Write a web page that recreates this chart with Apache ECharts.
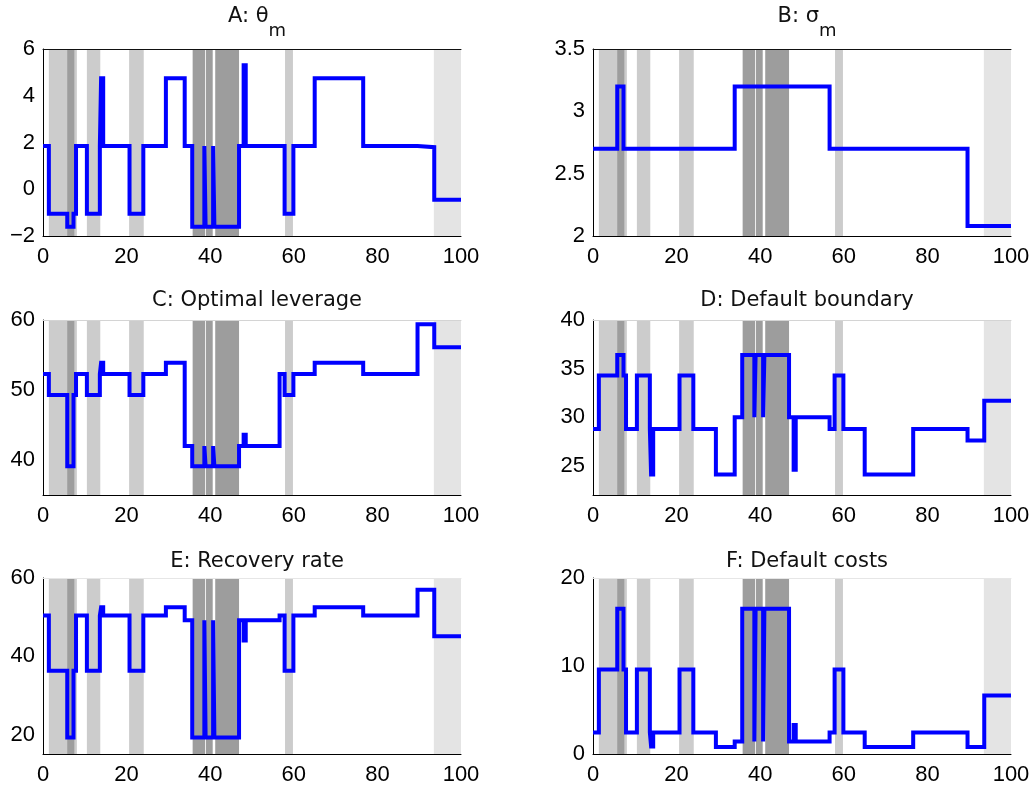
<!DOCTYPE html>
<html>
<head>
<meta charset="utf-8">
<script src="https://cdn.jsdelivr.net/npm/echarts@6/dist/echarts.min.js"></script>
<style>
html,body{margin:0;padding:0;background:#fff;}
#chart{width:1035px;height:788px;}
</style>
</head>
<body>
<div id="chart"></div>
<script>
// regime break points (start of each constant segment), last segment ends at xEnd
const breaks = [0, 1.4, 5.8, 7.3, 7.9, 10.5, 13.6, 13.9, 14.4, 20.7, 24.0, 29.4, 33.9, 35.7, 38.6, 38.9, 40.7, 41.0, 46.9, 48.0, 48.5, 56.6, 57.8, 59.9, 65.0, 76.6, 89.6, 93.6];
const xEnd = 100;

const thetaM   = [1.85,-1.05,-1.6,-1.05,1.85,-1.05,1.85,4.75,1.85,-1.05,1.85,4.75,1.85,-1.6,1.85,-1.6,1.85,-1.6,1.85,5.3,1.85,1.85,-1.05,1.85,4.75,1.85,1.8,-0.45];
const sigmaM   = [2.7,2.7,3.2,2.7,2.7,2.7,2.7,2.7,2.7,2.7,2.7,2.7,3.2,3.2,3.2,3.2,3.2,3.2,3.2,3.2,3.2,2.7,2.7,2.7,2.7,2.7,2.08,2.08];
const leverage = [52.3,49.3,39.1,49.3,52.3,49.3,52.3,53.9,52.3,49.3,52.3,53.9,42,39.1,42,39.1,42,39.1,42,43.6,42,52.3,49.3,52.3,53.9,52.3,59.4,56.1];
const boundary = [28.8,34.3,36.4,34.3,28.8,34.3,28.8,24.1,28.8,34.3,28.8,24.1,30.0,36.4,30.0,36.4,30.0,36.4,30.0,24.6,30.0,28.8,34.3,28.8,24.1,28.8,27.6,31.7];
const recovery = [50.4,36.3,19.2,36.3,50.4,36.3,50.4,52.5,50.4,36.3,50.4,52.5,49.2,19.2,49.2,19.2,49.2,19.2,49.2,44.0,49.2,50.4,36.3,50.4,52.5,50.4,57.0,45.1];
const costs    = [2.45,9.6,16.5,9.6,2.45,9.6,2.45,0.85,2.45,9.6,2.45,0.8,1.43,16.5,1.43,16.5,1.43,16.5,1.43,3.3,1.43,2.45,9.6,2.45,0.8,2.45,0.8,6.66];

// shaded periods
const shadeLight = [[1.4, 8.1], [10.5, 13.7], [20.6, 24.1], [57.9, 59.8]];
const shadeDark  = [[5.8, 7.5], [35.8, 38.8], [39.0, 40.6], [41.2, 46.9]];
const shadeFaint = [[93.5, 100]];

const titles = ['A', 'B', 'C: Optimal leverage', 'D: Default boundary', 'E: Recovery rate', 'F: Default costs'];
const seriesVals = [thetaM, sigmaM, leverage, boundary, recovery, costs];
// [min, max, step, labelled step]
const yRanges = [[-2, 6, 2, 2], [2, 3.5, 0.5, 0.5], [35, 60, 5, 10], [22, 40, 1, 5], [15, 60, 5, 20], [0, 20, 10, 10]];

// layout
const grids = [
  {left: 43, top: 49, width: 418, height: 187},
  {left: 593, top: 49, width: 418, height: 187},
  {left: 43, top: 320, width: 418, height: 175},
  {left: 593, top: 320, width: 418, height: 175},
  {left: 43, top: 578, width: 418, height: 176},
  {left: 593, top: 578, width: 418, height: 176}
];
const titleTops = [1, 1, 285, 285, 546, 546];
const topLineColors = ['#111', '#111', '#d4d4d4', '#d4d4d4', '#e6e6e6', '#e6e6e6'];

function stepData(vals) {
  const d = [];
  breaks.forEach((b, i) => {
    if (i > 0) d.push([b, vals[i - 1]]);
    d.push([b, vals[i]]);
  });
  d.push([xEnd, vals[vals.length - 1]]);
  return d;
}
function areas(list, color) {
  return list.map(r => [{xAxis: r[0], itemStyle: {color: color}}, {xAxis: r[1]}]);
}
function fmtNum(v) {
  const s = String(Math.round(v * 100) / 100);
  return v < 0 ? '\u2212' + s.slice(1) : s;
}

const labelFont = {fontFamily: '"Liberation Sans", Arial, sans-serif', fontSize: 22, color: '#000'};
const titleFont = '"DejaVu Sans", sans-serif';

const option = {
  animation: false,
  backgroundColor: '#fff',
  title: [],
  grid: grids.map(g => Object.assign({containLabel: false}, g)),
  xAxis: [],
  yAxis: [],
  series: []
};

for (let i = 0; i < 6; i++) {
  const c = grids[i];
  let ttl;
  if (i === 0 || i === 1) {
    const greek = i === 0 ? '\u03b8' : '\u03c3';
    ttl = {
      text: '{a|' + titles[i] + ': ' + greek + '}{s|m}',
      left: c.left + c.width / 2, top: titleTops[i], textAlign: 'center',
      textStyle: {
        fontWeight: 'normal',
        rich: {
          a: {fontFamily: titleFont, fontSize: 21, fontWeight: 'normal', color: '#111', lineHeight: 24, verticalAlign: 'top'},
          s: {fontFamily: titleFont, fontSize: 18, fontWeight: 'normal', color: '#111', lineHeight: 24, verticalAlign: 'top', padding: [16, 0, 0, 0]}
        }
      }
    };
  } else {
    ttl = {
      text: titles[i],
      left: c.left + c.width / 2, top: titleTops[i], textAlign: 'center',
      textStyle: {fontFamily: titleFont, fontSize: 21, fontWeight: 'normal', color: '#111'}
    };
  }
  option.title.push(ttl);

  option.xAxis.push({
    type: 'value', gridIndex: i, min: 0, max: 100, interval: 20, z: 2,
    axisLine: {show: true, onZero: false, lineStyle: {color: '#000', width: 1}},
    axisTick: {show: false},
    splitLine: {show: false},
    axisLabel: Object.assign({margin: 10}, labelFont)
  });
  // top frame line
  option.xAxis.push({
    type: 'value', gridIndex: i, min: 0, max: 100, position: 'top', z: 2,
    axisLine: {show: true, onZero: false, lineStyle: {color: topLineColors[i], width: 1}},
    axisTick: {show: false}, axisLabel: {show: false}, splitLine: {show: false}
  });
  const yr = yRanges[i];
  option.yAxis.push({
    type: 'value', gridIndex: i, min: yr[0], max: yr[1], interval: yr[2], z: 2,
    axisLine: {show: true, onZero: false, lineStyle: {color: '#000', width: 1}},
    axisTick: {show: false},
    splitLine: {show: false},
    axisLabel: Object.assign({
      margin: 8,
      formatter: function (v) {
        const k = v / yr[3];
        return Math.abs(k - Math.round(k)) < 1e-6 ? fmtNum(v) : '';
      }
    }, labelFont)
  });

  option.series.push({
    type: 'line',
    xAxisIndex: 2 * i, yAxisIndex: i,
    data: stepData(seriesVals[i]),
    symbol: 'none',
    z: 3,
    lineStyle: {color: '#0000ff', width: 4, join: 'miter', cap: 'butt'},
    markArea: {
      silent: true,
      z: 1,
      itemStyle: {opacity: 1},
      data: areas(shadeFaint, '#e4e4e4').concat(areas(shadeLight, '#cccccc'), areas(shadeDark, '#9d9d9d'))
    }
  });
}

const chart = echarts.init(document.getElementById('chart'), null, {renderer: 'canvas'});
chart.setOption(option);
</script>
</body>
</html>
